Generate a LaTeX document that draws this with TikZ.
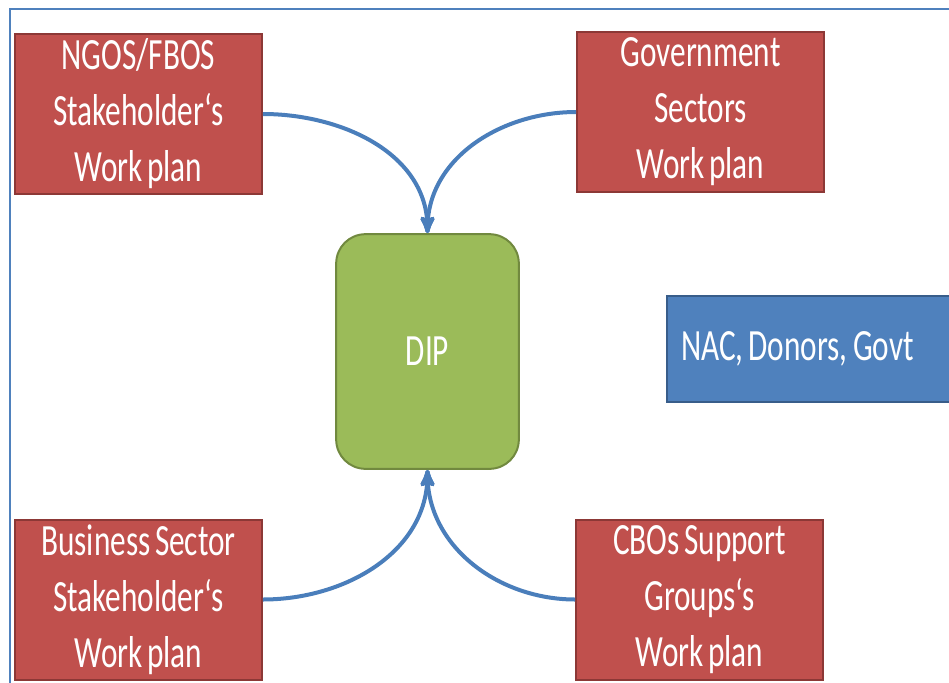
\documentclass[tikz,border=0pt]{standalone}
\usepackage{fontspec}
\setmainfont{Carlito}[FakeStretch=0.7, WordSpace=0.65]
\usetikzlibrary{shapes,arrows,positioning}
\definecolor{planred}{HTML}{C0504D}
\definecolor{planredline}{HTML}{8C3836}
\definecolor{dipgreen}{HTML}{9BBB59}
\definecolor{dipgreenline}{HTML}{71893F}
\definecolor{nacblue}{HTML}{4F81BD}
\definecolor{nacblueline}{HTML}{385D8A}
\definecolor{linkblue}{HTML}{4A7EBB}

\begin{document}
\begin{tikzpicture}[x=0.75pt,y=-0.75pt,
    plan/.style={draw=planredline, fill=planred, line width=1.5pt, text=white,
        align=center, minimum width=185pt, minimum height=120pt, inner sep=0pt,
        font=\fontsize{33.5}{42}\selectfont},
    dipbox/.style={draw=dipgreenline, fill=dipgreen, line width=1.5pt, text=white,
        rounded corners=22pt, minimum width=137pt, minimum height=176pt,
        font=\fontsize{33.5}{42}\selectfont},
    nacbox/.style={draw=nacblueline, fill=nacblue, line width=1.5pt, text=white,
        align=left, minimum height=80pt, inner xsep=10.5pt, text width=210pt,
        font=\fontsize{33.5}{42}\selectfont\frenchspacing},
    link/.style={draw=linkblue, line width=3pt, -stealth'}]
    \useasboundingbox (0,0) rectangle (949,682);
    \clip (0,0) rectangle (949,682);

    % Frame
    \draw[nacblue, line width=1.2pt] (10,690) -- (10,9) -- (960,9);

    % Work plans
    \node[plan] (ngo) at (138.5,114) {NGOS/FBOS\\Stakeholder‘s\\Work plan};
    \node[plan] (gov) at (700.5,112) {Government\\Sectors\\Work plan};
    \node[plan] (bus) at (138.5,599.5) {Business Sector\\Stakeholder‘s\\Work plan};
    \node[plan] (cbo) at (699.5,599.5) {CBOs Support\\Groups‘s\\Work plan};

    % Centre and funders
    \node[dipbox] (dip) at (427.5,351.5) {DIP};
    \node[nacbox, anchor=west] (nac) at (666,349) {NAC,\hspace{4pt}Donors,\hspace{4pt}Govt};

    % Links
    \draw[link] (ngo.east) to[out=0,in=90] (dip.north);
    \draw[link] (gov.west) to[out=180,in=90] (dip.north);
    \draw[link] (bus.east) to[out=0,in=-90] (dip.south);
    \draw[link] (cbo.west) to[out=180,in=-90] (dip.south);
\end{tikzpicture}
\end{document}
